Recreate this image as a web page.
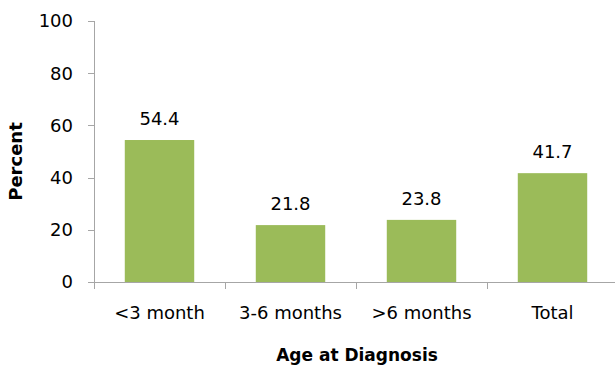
<!DOCTYPE html>
<html>
<head>
<meta charset="utf-8">
<script src="https://cdn.jsdelivr.net/npm/d3@7"></script>
<style>
  body { margin: 0; background: #fff; }
  text { font-family: "DejaVu Sans", sans-serif; fill: #000; }
</style>
</head>
<body>
<div id="chart"></div>
<script>
const categories = ["<3 month", "3-6 months", ">6 months", "Total"];
const values = [54.4, 21.8, 23.8, 41.7];
const yTicks = [0, 20, 40, 60, 80, 100];

const width = 615;
const height = 366;
const margin = { left: 94, right: -3, top: 21, bottom: 84 };

const svg = d3
  .select("#chart")
  .append("svg")
  .attr("width", width)
  .attr("height", height);

const x = d3
  .scaleBand()
  .domain(categories)
  .range([margin.left, width - margin.right]);

const y = d3
  .scaleLinear()
  .domain([0, 100])
  .range([height - margin.bottom, margin.top]);

const barWidth = x.bandwidth() * 0.53;
const axisColor = "#a6a6a6";

// y axis
const yAxis = svg.append("g").attr("transform", `translate(${margin.left},0)`);
yAxis
  .append("line")
  .attr("x1", 0.5)
  .attr("x2", 0.5)
  .attr("y1", y(100))
  .attr("y2", y(0))
  .attr("stroke", axisColor);
yAxis
  .selectAll(".tick")
  .data(yTicks)
  .join("line")
  .attr("x1", -6)
  .attr("x2", 0.5)
  .attr("y1", (d) => Math.round(y(d)) + 0.5)
  .attr("y2", (d) => Math.round(y(d)) + 0.5)
  .attr("stroke", axisColor);
yAxis
  .selectAll("text")
  .data(yTicks)
  .join("text")
  .attr("x", -21)
  .attr("y", (d) => y(d))
  .attr("dy", "0.35em")
  .attr("text-anchor", "end")
  .attr("font-size", 18)
  .text((d) => d);

// bars
svg
  .append("g")
  .selectAll("rect")
  .data(values)
  .join("rect")
  .attr("x", (d, i) => x(categories[i]) + x.bandwidth() / 2 - barWidth / 2)
  .attr("y", (d) => y(d))
  .attr("width", barWidth)
  .attr("height", (d) => y(0) - y(d))
  .attr("fill", "#9bbb59");

// value labels
svg
  .append("g")
  .selectAll("text")
  .data(values)
  .join("text")
  .attr("x", (d, i) => x(categories[i]) + x.bandwidth() / 2)
  .attr("y", (d) => y(d) - 15)
  .attr("text-anchor", "middle")
  .attr("font-size", 18)
  .text((d) => d.toFixed(1));

// x axis
const xAxis = svg.append("g");
xAxis
  .append("line")
  .attr("x1", margin.left)
  .attr("x2", width)
  .attr("y1", Math.round(y(0)) + 0.5)
  .attr("y2", Math.round(y(0)) + 0.5)
  .attr("stroke", axisColor);
xAxis
  .selectAll(".tick")
  .data(categories)
  .join("line")
  .attr("x1", (d) => Math.round(x(d)) + 0.5)
  .attr("x2", (d) => Math.round(x(d)) + 0.5)
  .attr("y1", Math.round(y(0)))
  .attr("y2", Math.round(y(0)) + 7)
  .attr("stroke", axisColor);
xAxis
  .selectAll("text")
  .data(categories)
  .join("text")
  .attr("x", (d) => x(d) + x.bandwidth() / 2)
  .attr("y", y(0) + 37)
  .attr("text-anchor", "middle")
  .attr("font-size", 18)
  .text((d) => d);

// axis titles
svg
  .append("text")
  .attr("transform", `translate(22,${(y(0) + y(100)) / 2 + 10}) rotate(-90)`)
  .attr("text-anchor", "middle")
  .attr("font-size", 18)
  .attr("font-weight", "bold")
  .text("Percent");

svg
  .append("text")
  .attr("x", 357)
  .attr("y", 361)
  .attr("text-anchor", "middle")
  .attr("font-size", 17)
  .attr("font-weight", "bold")
  .text("Age at Diagnosis");
</script>
</body>
</html>
